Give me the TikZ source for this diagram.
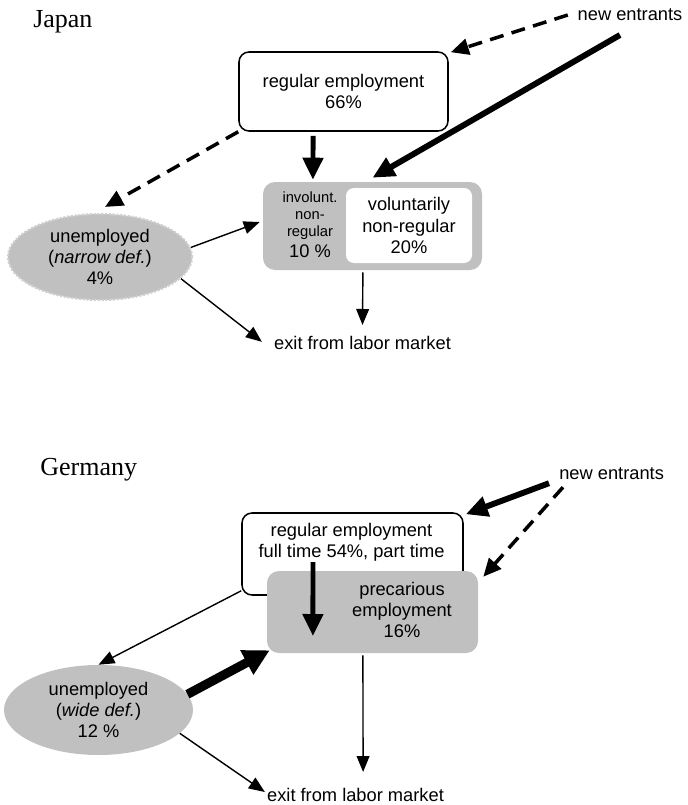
\documentclass[tikz,border=0pt]{standalone}
\usepackage{fontspec}
\setmainfont{Liberation Sans}
\newfontfamily\titlefont{Liberation Serif}
\usetikzlibrary{arrows.meta,shapes.geometric}
\definecolor{boxgrey}{HTML}{C0C0C0}

\newcommand{\smalltxt}[1]{{\fontsize{10.5}{12.5}\selectfont #1}}

\begin{document}
\begin{tikzpicture}[every node/.style={font=\fontsize{13}{15}\selectfont, align=center, inner sep=0pt},
  title/.style={font=\fontsize{18.5}{20}\selectfont\titlefont, anchor=west},
  whitebox/.style={draw, line width=1.1pt, rounded corners=0.25cm, fill=white},
  greybox/.style={fill=boxgrey, rounded corners=0.3cm},
  blob/.style={ellipse, fill=boxgrey},
  flow/.style={line width=1pt, -{Triangle[length=0.4cm,width=0.32cm]}},
  bigflow/.style={line width=3.5pt, -{Triangle[length=0.55cm,width=0.5cm]}},
  hugeflow/.style={line width=6.5pt, -{Triangle[length=0.65cm,width=0.65cm]}},
  dashflow/.style={line width=2.5pt, dash pattern=on 10pt off 6pt, -{Triangle[length=0.45cm,width=0.4cm]}}]

\useasboundingbox (0,0) rectangle (17.175,-20.125);

% JAPAN
\begin{scope}
  \node[title] (titleJ) at (0.825,-0.55) {Japan};
  \node (newJ) at (15.75,-0.375) {new entrants};
  \node[whitebox, minimum width=5.225cm, minimum height=1.975cm] (regJ) at (8.5875,-2.2875) {regular employment\\66\%};
  \node[greybox, minimum width=5.475cm, minimum height=2.2cm] (nonreg) at (9.3125,-5.65) {};
  \node[fill=white, rounded corners=0.2cm, minimum width=3.15cm, minimum height=1.875cm] (volJ) at (10.225,-5.6375) {voluntarily\\non-regular\\20\%};
  \node (invJ) at (7.75,-5.62) {\smalltxt{involunt.}\\[-3pt]\smalltxt{non-}\\[-3pt]\smalltxt{regular}\\10 \%};
  \node[blob, draw=boxgrey!75!white, line width=1.5pt, dash pattern=on 1.5pt off 1.2pt, minimum width=4.6cm, minimum height=2.15cm] (unJ) at (2.5,-6.425) {unemployed\\(\textit{narrow def.})\\4\%};
  \node (exitJ) at (9.0625,-8.575) {exit from labor market};

  \draw[bigflow] ([xshift=-0.76cm,yshift=-0.1cm]regJ.south) -- ([xshift=-1.49cm,yshift=0.05cm]nonreg.north);
  \draw[bigflow, line width=4.2pt] ([shift={(-0.25,-0.5)}]newJ.center) -- ([yshift=0.1cm]nonreg.north);
  \draw[dashflow] ([xshift=-0.24cm]newJ.west) -- ([shift={(0.05,-0.025)}]regJ.north east);
  \draw[dashflow] (regJ.south west) -- ([shift={(0.125,0.15)}]unJ.north);
  \draw[flow] (unJ.6) -- ([shift={(-0.075,0.1)}]nonreg.west);
  \draw[flow] (unJ.-15) -- ([xshift=-0.3cm,yshift=0.03cm]exitJ.west);
  \draw[flow] ([xshift=-0.24cm,yshift=-0.05cm]nonreg.south) -- ([yshift=0.45cm]exitJ.center);
\end{scope}

% GERMANY
\begin{scope}
  \node[title] (titleG) at (1.0,-11.75) {Germany};
  \node (newG) at (15.29,-11.83) {new entrants};
  \node[whitebox, minimum width=5.525cm, minimum height=2.05cm] (regG) at (8.8125,-13.85) {};
  \node (regGtext) at (8.7875,-13.55) {regular employment\\full time 54\%, part time};
  \node[greybox, minimum width=5.275cm, minimum height=2.05cm] (precG) at (9.3125,-15.3) {};
  \node (precGtext) at (10.05,-15.25) {precarious\\employment\\16\%};
  \node[blob, minimum width=4.725cm, minimum height=2.25cm] (unG) at (2.4625,-17.75) {unemployed\\(\textit{wide def.})\\12 \%};
  \node (exitG) at (8.8875,-19.875) {exit from labor market};

  \draw[bigflow, line width=4.2pt] ([shift={(-0.25,-0.25)}]newG.west) -- ([shift={(0.05,-0.05)}]regG.north east);
  \draw[dashflow] ([shift={(0.1,-0.35)}]newG.west) -- ([shift={(0.125,-0.15)}]precG.north east);
  \draw[bigflow] ([shift={(-0.9625,-0.5)}]regGtext.center) -- ([shift={(-1.49,-0.6)}]precG.center);
  \draw[flow] ([yshift=0.125cm]regG.south west) -- (unG.north);
  \draw[hugeflow] (unG.10) -- ([shift={(0.075,0.075)}]precG.south west);
  \draw[flow] (unG.-16) -- ([shift={(-0.05,0.075)}]exitG.west);
  \draw[flow] ([xshift=-0.24cm,yshift=-0.05cm]precG.south) -- ([shift={(0.19,0.575)}]exitG.center);
\end{scope}

\end{tikzpicture}
\end{document}
